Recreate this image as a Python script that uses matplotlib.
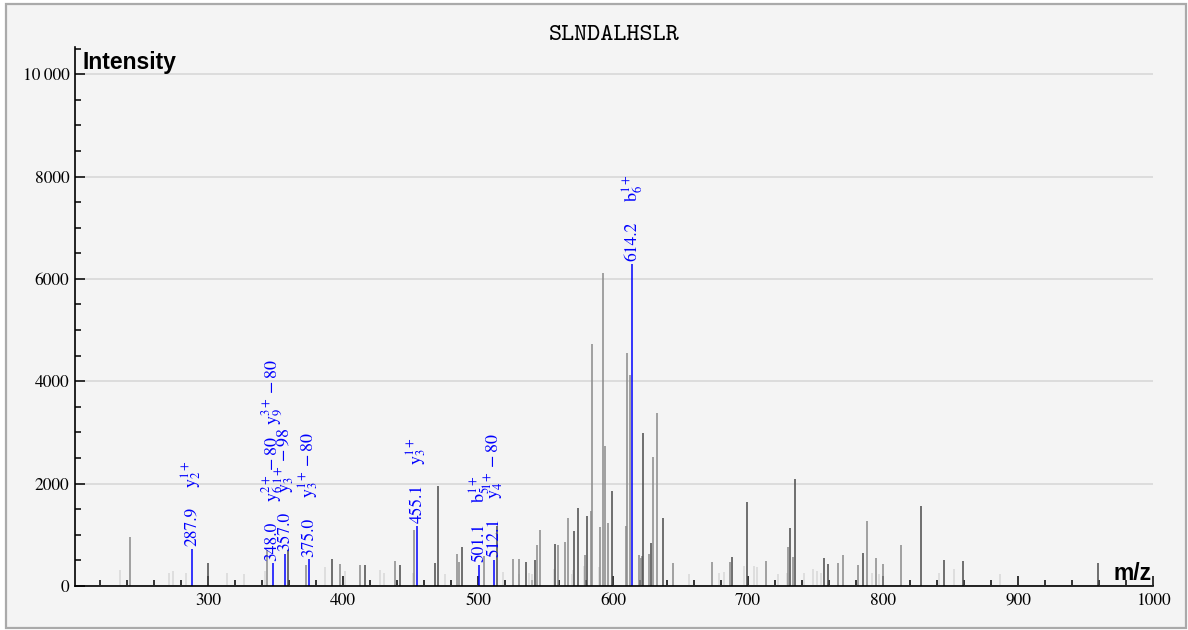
import matplotlib
matplotlib.use('Agg')
import matplotlib.pyplot as plt
import matplotlib.patches as patches
from matplotlib.ticker import MultipleLocator, FuncFormatter

plt.rcParams['mathtext.fontset'] = 'stix'

# peptide
title = 'SLNDALHSLR'

# unmatched peaks: m/z, intensity, shade (d=dark, m=mid, l=light)
peak_mz = [235.0, 242.2, 271.3, 274.3, 284.0, 300.2, 314.3, 326.4, 342.3, 343.5,
           359.0, 372.3, 387.0, 391.6, 397.5, 401.5, 412.4, 416.3, 427.4, 430.2,
           438.4, 442.5, 451.6, 452.4, 468.4, 470.1, 475.3, 484.2, 486.2, 488.4,
           504.4, 514.3, 518.3, 526.2, 530.2, 530.4, 535.8, 537.8, 539.8, 542.2,
           543.9, 546.2, 556.3, 557.3, 559.5, 564.4, 566.4, 569.4, 570.6, 571.3,
           574.3, 578.5, 579.5, 580.5, 583.5, 584.4, 589.4, 590.1, 592.6, 594.3,
           596.0, 599.5, 609.4, 610.4, 612.3, 619.3, 620.5, 621.5, 622.2, 627.0,
           628.2, 629.3, 632.3, 637.3, 644.3, 656.3, 673.3, 678.2, 682.2, 686.4,
           688.4, 697.3, 699.5, 704.4, 706.4, 713.3, 722.4, 728.6, 729.4, 731.4,
           733.6, 734.6, 741.5, 748.4, 751.4, 754.3, 756.3, 759.3, 766.4, 770.1,
           781.3, 785.4, 787.9, 792.0, 794.8, 797.0, 800.2, 813.3, 828.4, 841.2,
           845.4, 852.4, 859.4, 886.5, 959.5]
peak_int = [310, 950, 260, 300, 250, 450, 250, 235, 300, 700,
            700, 410, 370, 525, 430, 300, 420, 410, 310, 260,
            490, 410, 260, 1090, 455, 1960, 235, 620, 470, 755,
            590, 1170, 270, 535, 235, 520, 475, 260, 235, 510,
            800, 1090, 330, 815, 800, 860, 1320, 230, 310, 1080,
            1520, 390, 600, 1375, 1460, 4720, 380, 1160, 6110, 2730,
            1240, 1860, 1180, 4560, 4120, 605, 550, 590, 2995, 630,
            835, 2520, 3385, 1325, 450, 235, 475, 250, 275, 460,
            565, 400, 1635, 390, 380, 490, 240, 260, 760, 1140,
            565, 2100, 255, 330, 300, 250, 555, 435, 455, 610,
            410, 650, 1275, 250, 550, 240, 435, 795, 1560, 255,
            500, 330, 480, 235, 440]
peak_shade = ['l', 'm', 'l', 'l', 'l', 'd', 'l', 'l', 'l', 'm',
              'd', 'm', 'l', 'd', 'm', 'l', 'm', 'd', 'l', 'l',
              'm', 'd', 'l', 'm', 'd', 'd', 'l', 'm', 'm', 'd',
              'm', 'd', 'l', 'm', 'l', 'm', 'd', 'l', 'l', 'd',
              'm', 'm', 'l', 'd', 'm', 'm', 'm', 'l', 'l', 'd',
              'd', 'l', 'm', 'd', 'm', 'm', 'l', 'm', 'm', 'm',
              'm', 'd', 'm', 'm', 'm', 'm', 'm', 'm', 'd', 'm',
              'd', 'm', 'm', 'd', 'm', 'l', 'm', 'l', 'l', 'm',
              'd', 'l', 'd', 'l', 'l', 'm', 'l', 'l', 'm', 'd',
              'm', 'd', 'l', 'l', 'l', 'l', 'd', 'd', 'm', 'm',
              'm', 'd', 'm', 'l', 'm', 'l', 'm', 'm', 'd', 'l',
              'd', 'l', 'd', 'l', 'd']

# matched (annotated) peaks
match_mz = [287.9, 348.0, 357.0, 375.0, 455.1, 501.1, 512.1, 614.2]
match_int = [730, 440, 620, 520, 1170, 420, 510, 6300]
match_ions = [
    r'$\mathrm{y}_{2}^{1+}$',
    r'$\mathrm{y}_{6}^{2+}-80\quad\mathrm{y}_{9}^{3+}-80$',
    r'$\mathrm{y}_{3}^{1+}-98$',
    r'$\mathrm{y}_{3}^{1+}-80$',
    r'$\mathrm{y}_{3}^{1+}$',
    r'$\mathrm{b}_{5}^{1+}$',
    r'$\mathrm{y}_{4}^{1+}-80$',
    r'$\mathrm{b}_{6}^{1+}$',
]

shade_colors = {'d': '#4a4a4a', 'm': '#8a8a8a', 'l': '#d8d8d8'}
blue = '#0000ff'
serif = ['STIXGeneral', 'DejaVu Serif']

W, H = 1188, 630
fig = plt.figure(figsize=(W / 100, H / 100), dpi=100, facecolor='white')
fig.patches.append(patches.Rectangle((5.5 / W, 2 / H), 1180 / W, 624 / H,
                                     transform=fig.transFigure, facecolor='#f4f4f4',
                                     edgecolor='#aaaaaa', linewidth=1.6, zorder=-10))

ax = fig.add_axes([75 / W, 44 / H, 1078 / W, 539 / H])
ax.set_facecolor('none')

# peaks, light ones first so darker lie on top
for shade in ['l', 'm', 'd']:
    xs = [m for m, s in zip(peak_mz, peak_shade) if s == shade]
    ys = [v for v, s in zip(peak_int, peak_shade) if s == shade]
    ax.vlines(xs, 0, ys, color=shade_colors[shade], linewidth=1.1, zorder=2)

ax.vlines(match_mz, 0, match_int, color=blue, linewidth=1.1, zorder=3)

for mz, inten, ion in zip(match_mz, match_int, match_ions):
    ax.annotate(f'{mz:.1f}', xy=(mz, inten), xytext=(0, 2), textcoords='offset points',
                rotation=90, ha='center', va='bottom', color=blue,
                fontsize=12.5, family=serif, zorder=4)
    ax.annotate(ion, xy=(mz, inten), xytext=(0, 44), textcoords='offset points',
                rotation=90, ha='center', va='bottom', color=blue,
                fontsize=13, zorder=4)

ax.set_xlim(201.5, 1000)
ax.set_ylim(0, 10530)

for side in ['top', 'right']:
    ax.spines[side].set_visible(False)
for side in ['left', 'bottom']:
    ax.spines[side].set_linewidth(1.2)
    ax.spines[side].set_zorder(5)

ax.xaxis.set_major_locator(MultipleLocator(100))
ax.xaxis.set_minor_locator(MultipleLocator(20))
ax.yaxis.set_major_locator(MultipleLocator(2000))
ax.yaxis.set_minor_locator(MultipleLocator(500))


def fmt_int(v, pos):
    if v >= 10000:
        return f'{int(v):,}'.replace(',', '\u2009')
    return f'{int(v)}'


ax.yaxis.set_major_formatter(FuncFormatter(fmt_int))
ax.xaxis.set_major_formatter(FuncFormatter(fmt_int))
ax.tick_params(which='major', direction='in', length=7, width=1.1, labelsize=12.5, pad=5)
ax.tick_params(which='minor', direction='in', length=4.5, width=1.1)
ax.tick_params(axis='y', which='major', pad=4)
for lab in ax.get_xticklabels() + ax.get_yticklabels():
    lab.set_family(serif)

ax.yaxis.grid(True, color='#dcdcdc', linewidth=1.4, zorder=0)
ax.set_axisbelow(True)

ax.set_title(title, fontsize=18, family=['cmtt10', 'Liberation Mono'], pad=5)
ax.text(0.0065, 0.992, 'Intensity', transform=ax.transAxes, ha='left', va='top',
        fontsize=16.5, fontweight='bold', family=['Liberation Sans', 'DejaVu Sans'])
ax.text(0.999, 0.011, 'm/z', transform=ax.transAxes, ha='right', va='baseline',
        fontsize=16.5, fontweight='bold', family=['Liberation Sans', 'DejaVu Sans'])

fig.savefig('out.png', dpi=100, facecolor=fig.get_facecolor())
